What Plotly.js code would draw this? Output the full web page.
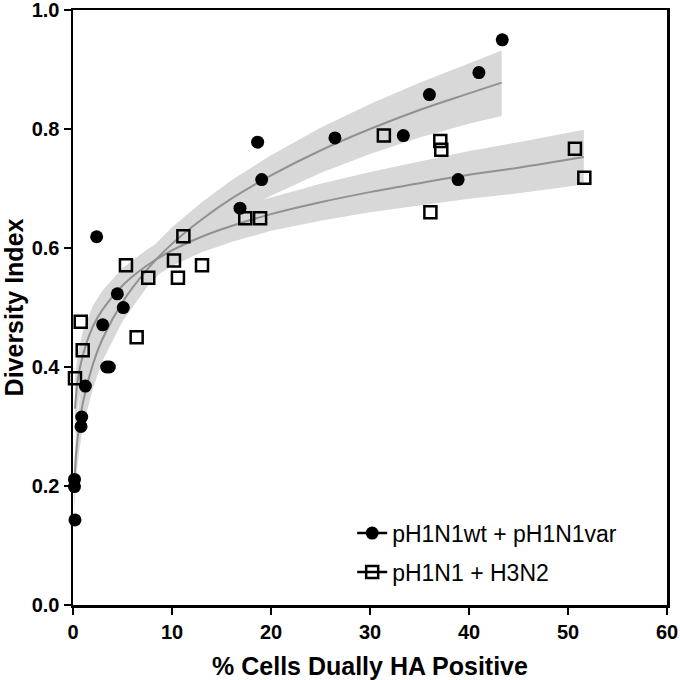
<!DOCTYPE html>
<html>
<head>
<meta charset="utf-8">
<script src="https://cdn.plot.ly/plotly-3.0.1.min.js"></script>
<style>html,body{margin:0;padding:0;background:#fff;}#chart{width:680px;height:680px;}</style>
</head>
<body>
<div id="chart"></div>
<script>
// Observed points
const wtX = [2.39, 4.48, 5.08, 3.0, 3.4, 3.67, 1.25, 0.88, 0.81, 0.15, 0.15, 0.2, 16.87, 19.06, 18.65, 26.46, 33.37, 36.0, 41.0, 43.36, 38.9];
const wtY = [0.619, 0.523, 0.500, 0.471, 0.400, 0.400, 0.368, 0.316, 0.300, 0.211, 0.199, 0.143, 0.667, 0.715, 0.778, 0.785, 0.789, 0.858, 0.895, 0.950, 0.715];
const h3X = [31.4, 37.1, 37.2, 50.7, 51.65, 36.1, 17.4, 18.9, 11.15, 10.2, 5.35, 13.03, 7.6, 10.6, 0.78, 6.43, 0.98, 0.2];
const h3Y = [0.789, 0.780, 0.765, 0.767, 0.718, 0.660, 0.650, 0.650, 0.620, 0.579, 0.571, 0.571, 0.550, 0.550, 0.476, 0.450, 0.428, 0.381];

// Fitted curve and confidence band
const fitWtX = [0.1, 0.3, 0.6, 1, 2, 3, 5, 7.5, 10, 13, 16, 20, 25, 30, 35, 40, 43.3];
const fitWtY = [0.19, 0.251, 0.298, 0.340, 0.404, 0.448, 0.509, 0.564, 0.607, 0.648, 0.683, 0.722, 0.764, 0.800, 0.832, 0.860, 0.878];
const fitWtHi = [0.225, 0.291, 0.340, 0.382, 0.444, 0.485, 0.541, 0.593, 0.635, 0.677, 0.714, 0.756, 0.802, 0.842, 0.878, 0.911, 0.932];
const fitWtLo = [0.155, 0.211, 0.256, 0.298, 0.364, 0.411, 0.477, 0.535, 0.579, 0.619, 0.652, 0.688, 0.726, 0.758, 0.786, 0.809, 0.822];

const fitH3X = [0.2, 0.5, 1, 2, 3, 5, 7.5, 10, 13, 16, 20, 25, 30, 35, 40, 45, 51.6];
const fitH3Y = [0.33, 0.38, 0.42, 0.468, 0.497, 0.537, 0.571, 0.596, 0.619, 0.637, 0.657, 0.677, 0.694, 0.709, 0.723, 0.735, 0.753];
const fitH3Hi = [0.38, 0.425, 0.46, 0.503, 0.529, 0.566, 0.598, 0.622, 0.645, 0.664, 0.685, 0.708, 0.728, 0.746, 0.763, 0.778, 0.799];
const fitH3Lo = [0.28, 0.335, 0.38, 0.433, 0.465, 0.508, 0.544, 0.570, 0.593, 0.610, 0.629, 0.646, 0.660, 0.672, 0.683, 0.692, 0.707];

const names = ['pH1N1wt + pH1N1var', 'pH1N1 + H3N2'];
const xTicks = [0, 10, 20, 30, 40, 50, 60];
const yTicks = [0.0, 0.2, 0.4, 0.6, 0.8, 1.0];

const FONT = 'Liberation Sans, Arial, Helvetica, sans-serif';
const bandColor = 'rgb(216,216,216)';
const fitColor = 'rgb(145,145,145)';

function band(xs, hi, lo) {
  return {
    x: xs.concat(xs.slice().reverse()),
    y: hi.concat(lo.slice().reverse()),
    type: 'scatter', mode: 'lines', fill: 'toself',
    fillcolor: bandColor, line: {width: 0, color: bandColor},
    hoverinfo: 'skip', showlegend: false
  };
}

const traces = [
  band(fitWtX, fitWtHi, fitWtLo),
  band(fitH3X, fitH3Hi, fitH3Lo),
  {x: fitWtX, y: fitWtY, type: 'scatter', mode: 'lines', line: {color: fitColor, width: 2, shape: 'spline'}, showlegend: false},
  {x: fitH3X, y: fitH3Y, type: 'scatter', mode: 'lines', line: {color: fitColor, width: 2, shape: 'spline'}, showlegend: false},
  {x: wtX, y: wtY, type: 'scatter', mode: 'markers', cliponaxis: false,
   marker: {symbol: 'circle', size: 13, color: 'black'}, showlegend: false},
  {x: h3X, y: h3Y, type: 'scatter', mode: 'markers', cliponaxis: false,
   marker: {symbol: 'square-open', size: 12, color: 'black', line: {width: 2.5, color: 'black'}}, showlegend: false},
  // legend entries
  {x: [null], y: [null], type: 'scatter', mode: 'lines+markers', name: names[0], legendgroup: 'a',
   line: {color: 'black', width: 2.5}, marker: {symbol: 'circle', size: 13, color: 'black'}},
  {x: [null], y: [null], type: 'scatter', mode: 'lines+markers', name: names[1], legendgroup: 'b',
   line: {color: 'black', width: 2.5}, marker: {symbol: 'square-open', size: 12, color: 'black', line: {width: 2.5, color: 'black'}}}
];

const layout = {
  width: 680, height: 680,
  margin: {l: 73, r: 13, t: 10, b: 75},
  paper_bgcolor: 'white', plot_bgcolor: 'white',
  font: {family: FONT, color: 'black'},
  showlegend: true,
  legend: {
    x: 0.470, y: 0.157, xanchor: 'left', yanchor: 'top',
    font: {family: FONT, size: 23, color: 'black'},
    bgcolor: 'rgba(0,0,0,0)', tracegroupgap: 6
  },
  xaxis: {
    range: [0, 60.0001], tickvals: xTicks, ticktext: xTicks.map(String),
    ticks: 'outside', ticklen: 7, tickwidth: 2.5, tickcolor: 'black',
    showline: true, linewidth: 2.5, linecolor: 'black', mirror: true,
    showgrid: false, zeroline: false, ticklabeloverflow: 'allow',
    tickfont: {family: FONT, size: 20, weight: 'bold', color: 'black'},
    title: {text: '% Cells Dually HA Positive', font: {family: FONT, size: 25, weight: 'bold', color: 'black'}, standoff: 18}
  },
  yaxis: {
    range: [0, 1.0001], tickvals: yTicks, ticktext: yTicks.map(v => v.toFixed(1)),
    ticks: 'outside', ticklen: 7, tickwidth: 2.5, tickcolor: 'black',
    showline: true, linewidth: 2.5, linecolor: 'black', mirror: true,
    showgrid: false, zeroline: false, ticklabeloverflow: 'allow',
    tickfont: {family: FONT, size: 20, weight: 'bold', color: 'black'},
    title: {text: 'Diversity Index', font: {family: FONT, size: 25, weight: 'bold', color: 'black'}, standoff: 3}
  }
};

Plotly.newPlot('chart', traces, layout, {displayModeBar: false, staticPlot: true});
</script>
</body>
</html>
